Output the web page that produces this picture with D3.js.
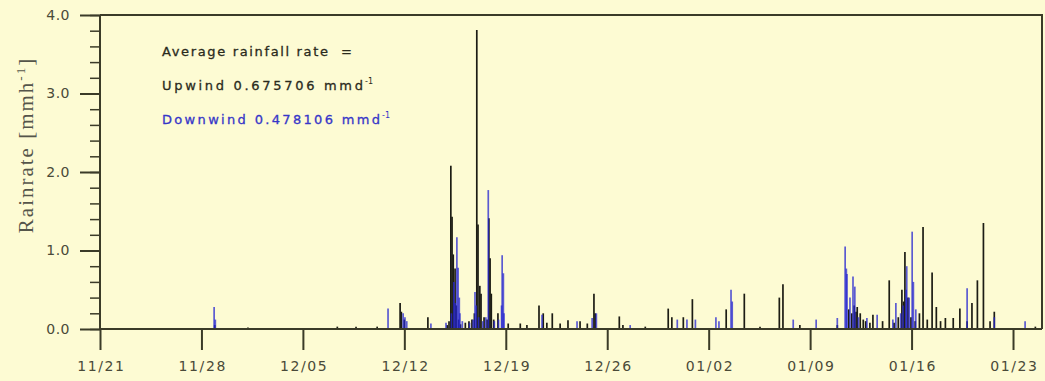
<!DOCTYPE html>
<html>
<head>
<meta charset="utf-8">
<script src="https://cdn.jsdelivr.net/npm/d3@7"></script>
<style>
  body { margin: 0; background: #fdfbd3; }
  svg { display: block; }
  .axis path, .axis line { stroke: #3b3b28; }
  .axis text { fill: #4a4a38; font-family: "DejaVu Sans", sans-serif; font-size: 14px; }
</style>
</head>
<body>
<svg id="chart"></svg>
<script>
// hours since 11/21 00:00 and rain rate (mm/h)
const upwindHour = [190, 245, 393, 424, 459, 497, 499, 504, 543, 575, 578, 581, 583, 585, 588, 590, 594, 597,
  605, 611, 616, 620, 624, 626, 629, 631, 636, 641, 644, 646, 648, 652, 659, 676, 696, 707, 727, 734, 740, 749,
  762, 775, 795, 807, 818, 820, 860, 866, 903, 941, 947, 966, 981, 1037, 1067, 1093, 1125, 1131, 1159, 1221,
  1240, 1245, 1249, 1252, 1254, 1259, 1264, 1268, 1275, 1280, 1296, 1307, 1315, 1322, 1328, 1331, 1333, 1338,
  1343, 1350, 1357, 1363, 1370, 1378, 1385, 1392, 1400, 1413, 1424, 1436, 1444, 1453, 1463, 1474, 1481, 1549];
const upwindRate = [0.05, 0.02, 0.03, 0.03, 0.03, 0.33, 0.22, 0.12, 0.15, 0.05, 0.1, 2.08, 1.43, 0.95, 0.77, 0.3, 0.12, 0.06,
  0.08, 0.1, 0.12, 0.2, 3.81, 1.33, 0.55, 0.45, 0.15, 0.12, 1.41, 0.9, 0.45, 0.12, 0.2, 0.07, 0.07, 0.05, 0.3, 0.2, 0.08, 0.2,
  0.07, 0.11, 0.1, 0.07, 0.45, 0.2, 0.16, 0.05, 0.03, 0.26, 0.15, 0.15, 0.38, 0.25, 0.45, 0.03, 0.4, 0.57, 0.05, 0.05,
  0.25, 0.2, 0.3, 0.22, 0.28, 0.2, 0.12, 0.1, 0.08, 0.18, 0.1, 0.62, 0.08, 0.15, 0.5, 0.35, 0.98, 0.4,
  0.15, 0.1, 0.2, 1.3, 0.12, 0.72, 0.28, 0.1, 0.14, 0.14, 0.26, 0.1, 0.33, 0.62, 1.35, 0.1, 0.22, 0.03];

const downwindHour = [189, 191, 477, 502, 505, 508, 548, 573, 582, 586, 588, 591, 593, 595, 596, 600, 612, 618,
  621, 623, 627, 634, 639, 643, 653, 660, 665, 666, 668, 669, 732, 790, 815, 822, 878, 956, 972, 986, 1020, 1025,
  1045, 1047, 1148, 1186, 1221, 1234, 1236, 1237, 1242, 1247, 1250, 1256, 1270, 1287, 1313, 1318, 1326, 1330,
  1335, 1336, 1340, 1345, 1347, 1351, 1436, 1481, 1532];
const downwindRate = [0.28, 0.12, 0.26, 0.2, 0.15, 0.1, 0.07, 0.08, 0.2, 0.6, 0.33, 1.17, 0.78, 0.4, 0.2, 0.1, 0.08, 0.12,
  0.47, 0.3, 0.15, 0.1, 0.15, 1.77, 0.1, 0.12, 0.3, 0.94, 0.71, 0.2, 0.18, 0.1, 0.14, 0.2, 0.05, 0.12, 0.12, 0.12, 0.15, 0.1,
  0.5, 0.35, 0.12, 0.12, 0.14, 1.05, 0.77, 0.7, 0.4, 0.67, 0.54, 0.15, 0.14, 0.18, 0.12, 0.33, 0.2, 0.3,
  0.5, 0.8, 0.4, 1.24, 0.6, 0.25, 0.52, 0.15, 0.1];

const tickLabels = ['11/21', '11/28', '12/05', '12/12', '12/19', '12/26', '01/02', '01/09', '01/16', '01/23'];
const legendLines = ['Average rainfall rate  =', 'Upwind 0.675706 mmd', 'Downwind 0.478106 mmd'];

class RainChart {
  constructor(_config) {
    this.config = {
      parentElement: _config.parentElement,
      containerWidth: _config.containerWidth,
      containerHeight: _config.containerHeight,
      margin: {top: 15, right: 3, bottom: 52, left: 100}
    };
    this.initVis();
  }

  initVis() {
    let vis = this;
    vis.width = vis.config.containerWidth - vis.config.margin.left - vis.config.margin.right;
    vis.height = vis.config.containerHeight - vis.config.margin.top - vis.config.margin.bottom;

    vis.start = Date.UTC(2010, 10, 21);
    vis.toDate = h => new Date(vis.start + h * 3600e3);
    vis.tickDates = tickLabels.map(s => {
      const [m, d] = s.split('/').map(Number);
      return new Date(Date.UTC(m >= 11 ? 2010 : 2011, m - 1, d));
    });

    vis.xScale = d3.scaleUtc()
        .domain([vis.start, Date.UTC(2011, 0, 25)])
        .range([0, vis.width]);
    vis.yScale = d3.scaleLinear()
        .domain([0, 4])
        .range([vis.height, 0]);

    vis.svg = d3.select(vis.config.parentElement)
        .attr('width', vis.config.containerWidth)
        .attr('height', vis.config.containerHeight);

    vis.chart = vis.svg.append('g')
        .attr('transform', `translate(${vis.config.margin.left},${vis.config.margin.top})`);

    vis.renderVis();
  }

  renderVis() {
    let vis = this;
    const up = upwindHour.map((h, i) => ({t: vis.toDate(h), v: upwindRate[i]}));
    const down = downwindHour.map((h, i) => ({t: vis.toDate(h), v: downwindRate[i]}));

    // upwind in black, downwind over it in translucent blue
    vis.chart.append('g').selectAll('line')
      .data(up).join('line')
        .attr('x1', d => vis.xScale(d.t)).attr('x2', d => vis.xScale(d.t))
        .attr('y1', vis.yScale(0)).attr('y2', d => vis.yScale(d.v))
        .attr('stroke', '#1c1c14').attr('stroke-width', 1.7);

    vis.chart.append('g').selectAll('line')
      .data(down).join('line')
        .attr('x1', d => vis.xScale(d.t)).attr('x2', d => vis.xScale(d.t))
        .attr('y1', vis.yScale(0)).attr('y2', d => vis.yScale(d.v))
        .attr('stroke', '#2424d0').attr('stroke-opacity', 0.75).attr('stroke-width', 1.7);

    // frame (top + right)
    vis.chart.append('path')
        .attr('d', `M0,0H${vis.width}V${vis.height}`)
        .attr('fill', 'none').attr('stroke', '#3b3b28').attr('stroke-width', 2);

    // y axis: minor ticks every 0.2, major every 1.0
    const yMinor = d3.axisLeft(vis.yScale).tickValues(d3.range(0, 4.01, 0.2)).tickSize(10).tickFormat('');
    vis.chart.append('g').attr('class', 'axis').call(yMinor)
        .call(g => g.select('.domain').remove())
        .selectAll('line').attr('stroke-width', 1.5);
    const yAxis = d3.axisLeft(vis.yScale).tickValues([0, 1, 2, 3, 4]).tickSize(20).tickPadding(10)
        .tickFormat(d3.format('.1f'));
    vis.chart.append('g').attr('class', 'axis').call(yAxis)
        .call(g => g.select('.domain').attr('stroke-width', 2).attr('d', `M0,0V${vis.height}`))
        .call(g => g.selectAll('text').attr('letter-spacing', 0.5))
        .selectAll('line').attr('stroke-width', 2);

    const xAxis = d3.axisBottom(vis.xScale).tickValues(vis.tickDates).tickSize(21).tickPadding(11)
        .tickFormat((d, i) => tickLabels[i]);
    vis.chart.append('g').attr('class', 'axis')
        .attr('transform', `translate(0,${vis.height})`)
        .call(xAxis)
        .call(g => g.select('.domain').attr('stroke-width', 2).attr('d', `M0,0H${vis.width}`))
        .call(g => g.selectAll('text').attr('letter-spacing', 1.6).attr('dx', 0.8))
        .selectAll('line').attr('stroke-width', 2);

    // y label
    vis.svg.append('text')
        .attr('transform', 'translate(33,145) rotate(-90)')
        .attr('text-anchor', 'middle')
        .attr('font-family', '"Liberation Serif", serif').attr('font-size', 21)
        .attr('letter-spacing', 2)
        .attr('fill', '#55554a')
        .html('Rainrate [mmh<tspan dy="-8" font-size="13">-1</tspan><tspan dy="8">]</tspan>');

    // legend text, stretched to the widths in the original
    const colors = ['#2a2a1c', '#2a2a1c', '#3636c8'];
    const widths = [190, 201, 218];
    legendLines.forEach((s, i) => {
      const y = 56 + i * 34;
      vis.svg.append('text')
          .attr('x', 162).attr('y', y)
          .attr('font-family', '"DejaVu Sans", sans-serif').attr('font-size', 13)
          .attr('textLength', widths[i]).attr('lengthAdjust', 'spacing')
          .style('white-space', 'pre')
          .attr('fill', colors[i]).attr('stroke', colors[i]).attr('stroke-width', 0.3)
          .text(s);
      if (i > 0) {
        vis.svg.append('text')
            .attr('x', 162 + widths[i] + 2).attr('y', y - 6)
            .attr('font-family', '"DejaVu Sans", sans-serif').attr('font-size', 8)
            .attr('fill', colors[i])
            .text('-1');
      }
    });
  }
}

new RainChart({parentElement: '#chart', containerWidth: 1045, containerHeight: 381});
</script>
</body>
</html>
